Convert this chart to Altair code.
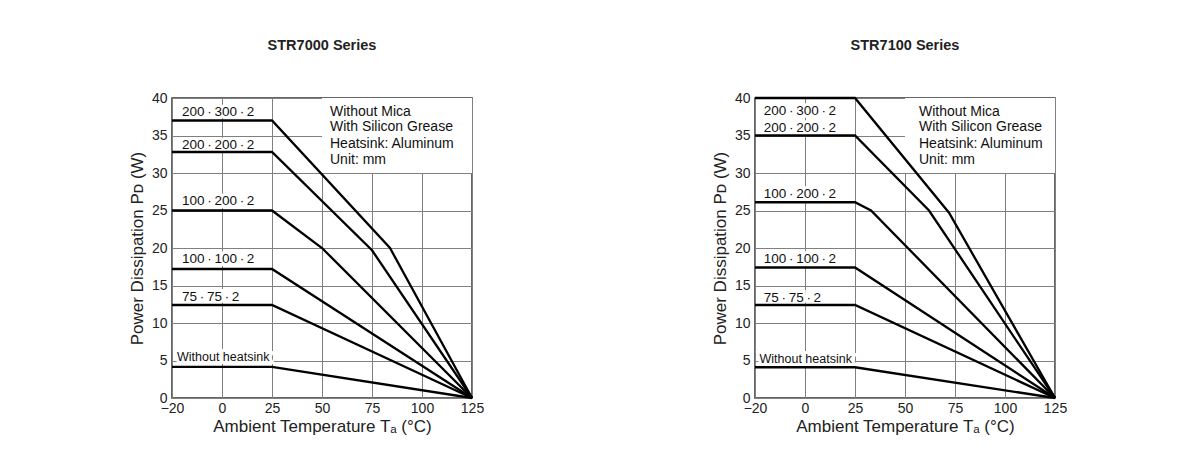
import altair as alt
import pandas as pd

# ---------------- data ----------------
X_TICKS = [-20, 0, 25, 50, 75, 100, 125]
Y_TICKS = [0, 5, 10, 15, 20, 25, 30, 35, 40]

TS = "\u2009"
series_names = [f"200{TS}·{TS}300{TS}·{TS}2", f"200{TS}·{TS}200{TS}·{TS}2", f"100{TS}·{TS}200{TS}·{TS}2",
                f"100{TS}·{TS}100{TS}·{TS}2", f"75{TS}·{TS}75{TS}·{TS}2", "Without heatsink"]

# STR7000 Series derating curves (temperature °C, power W)
s7000_temps = [
    [-20, 25, 84, 125],
    [-20, 25, 75, 125],
    [-20, 25, 50, 125],
    [-20, 25, 125],
    [-20, 25, 125],
    [-20, 25, 125],
]
s7000_power = [
    [37.0, 37.0, 20.0, 0],
    [32.8, 32.8, 19.7, 0],
    [25.0, 25.0, 20.0, 0],
    [17.2, 17.2, 0],
    [12.4, 12.4, 0],
    [4.15, 4.15, 0],
]
s7000_label_x = [-16, -16, -16, -16, -16, -18]
s7000_label_y = [38.1, 33.8, 26.3, 18.5, 13.5, 5.5]

# STR7100 Series derating curves
s7100_temps = [
    [-20, 25, 72, 125],
    [-20, 25, 62, 125],
    [-20, 25, 33, 125],
    [-20, 25, 125],
    [-20, 25, 125],
    [-20, 25, 125],
]
s7100_power = [
    [40.0, 40.0, 24.7, 0],
    [35.0, 35.0, 25.0, 0],
    [26.1, 26.1, 25.0, 0],
    [17.4, 17.4, 0],
    [12.4, 12.4, 0],
    [4.1, 4.1, 0],
]
s7100_label_x = [-16.5, -16.5, -16.5, -16.5, -16.5, -18.2]
s7100_label_y = [38.3, 36.0, 27.2, 18.5, 13.3, 5.2]

note_lines = ["Without Mica", "With Silicon Grease", "Heatsink: Aluminum", "Unit: mm"]
s7000_note_x = 54
s7100_note_x = 57
note_y = [38.2, 36.1, 33.9, 31.7]
note_box = {"x": 50, "x2": 125, "y": 30, "y2": 40}

FONT = "Liberation Sans"


def panel(title, temps, power, label_x, label_y, note_x):
    rows = []
    for name, ts, ps in zip(series_names, temps, power):
        for i, (t, p) in enumerate(zip(ts, ps)):
            rows.append({"series": name, "temp": t, "power": p, "idx": i})
    lines_df = pd.DataFrame(rows)
    labels_df = pd.DataFrame({
        "series": series_names, "temp": label_x, "power": label_y,
        "size": [13.5, 13.5, 13.5, 13.5, 13.5, 12.5],
    })
    notes_df = pd.DataFrame({"text": note_lines, "temp": [note_x] * 4, "power": note_y})
    box_df = pd.DataFrame([note_box])

    xscale = alt.Scale(domain=[-20, 0, 125], range=[0, 50, 300], nice=False, zero=False)
    yscale = alt.Scale(domain=[0, 40], nice=False, zero=False)

    xaxis = alt.Axis(values=X_TICKS, grid=True, ticks=False, domain=False,
                     labelPadding=3, labelFontSize=14, labelFont=FONT, labelColor="#222",
                     labelFlush=False, gridColor="#808080", gridWidth=1,
                     title="Ambient Temperature Tₐ (°C)", titleFont=FONT, titleFontSize=17,
                     titleFontWeight="normal", titleColor="#222", titlePadding=3)
    yaxis = alt.Axis(values=Y_TICKS, grid=True, ticks=False, domain=False,
                     labelPadding=5, labelFontSize=14, labelFont=FONT, labelColor="#222",
                     labelFlush=False, gridColor="#808080", gridWidth=1,
                     title="Power Dissipation Pᴅ (W)", titleFont=FONT, titleFontSize=17,
                     titleFontWeight="normal", titleColor="#222", titlePadding=5)

    base_x = alt.X("temp:Q", scale=xscale, axis=xaxis)
    base_y = alt.Y("power:Q", scale=yscale, axis=yaxis)

    box = alt.Chart(box_df).mark_rect(color="white").encode(
        x=alt.X("x:Q", scale=xscale, axis=xaxis), x2="x2:Q",
        y=alt.Y("y:Q", scale=yscale, axis=yaxis), y2="y2:Q")

    lines = alt.Chart(lines_df).mark_line(color="black", strokeWidth=2.3).encode(
        x=base_x, y=base_y, detail="series:N", order="idx:Q")

    halo = alt.Chart(labels_df).mark_text(
        align="left", baseline="middle", font=FONT, stroke="white", strokeWidth=6,
        color="white").encode(x=base_x, y=base_y, text="series:N",
                              size=alt.Size("size:Q", scale=None, legend=None))
    labels = alt.Chart(labels_df).mark_text(
        align="left", baseline="middle", font=FONT, color="#111").encode(
        x=base_x, y=base_y, text="series:N",
        size=alt.Size("size:Q", scale=None, legend=None))

    notes = alt.Chart(notes_df).mark_text(
        align="left", baseline="middle", font=FONT, fontSize=14, color="#111").encode(
        x=base_x, y=base_y, text="text:N")

    return alt.layer(box, halo, lines, labels, notes).properties(
        width=300, height=300,
        title=alt.TitleParams(title, font=FONT, fontSize=14.5, fontWeight="bold",
                              color="#222", offset=38, anchor="middle", frame="group"))


left = panel("STR7000 Series", s7000_temps, s7000_power, s7000_label_x, s7000_label_y, s7000_note_x)
right = panel("STR7100 Series", s7100_temps, s7100_power, s7100_label_x, s7100_label_y, s7100_note_x)

chart = alt.hconcat(left, right, spacing=225).properties(
    padding={"left": 119, "top": 28, "right": 5, "bottom": 5},
    background="white",
).configure_view(stroke="#333", strokeWidth=1.5)

chart.save("out.html", embed_options={"renderer": "svg", "actions": False})
